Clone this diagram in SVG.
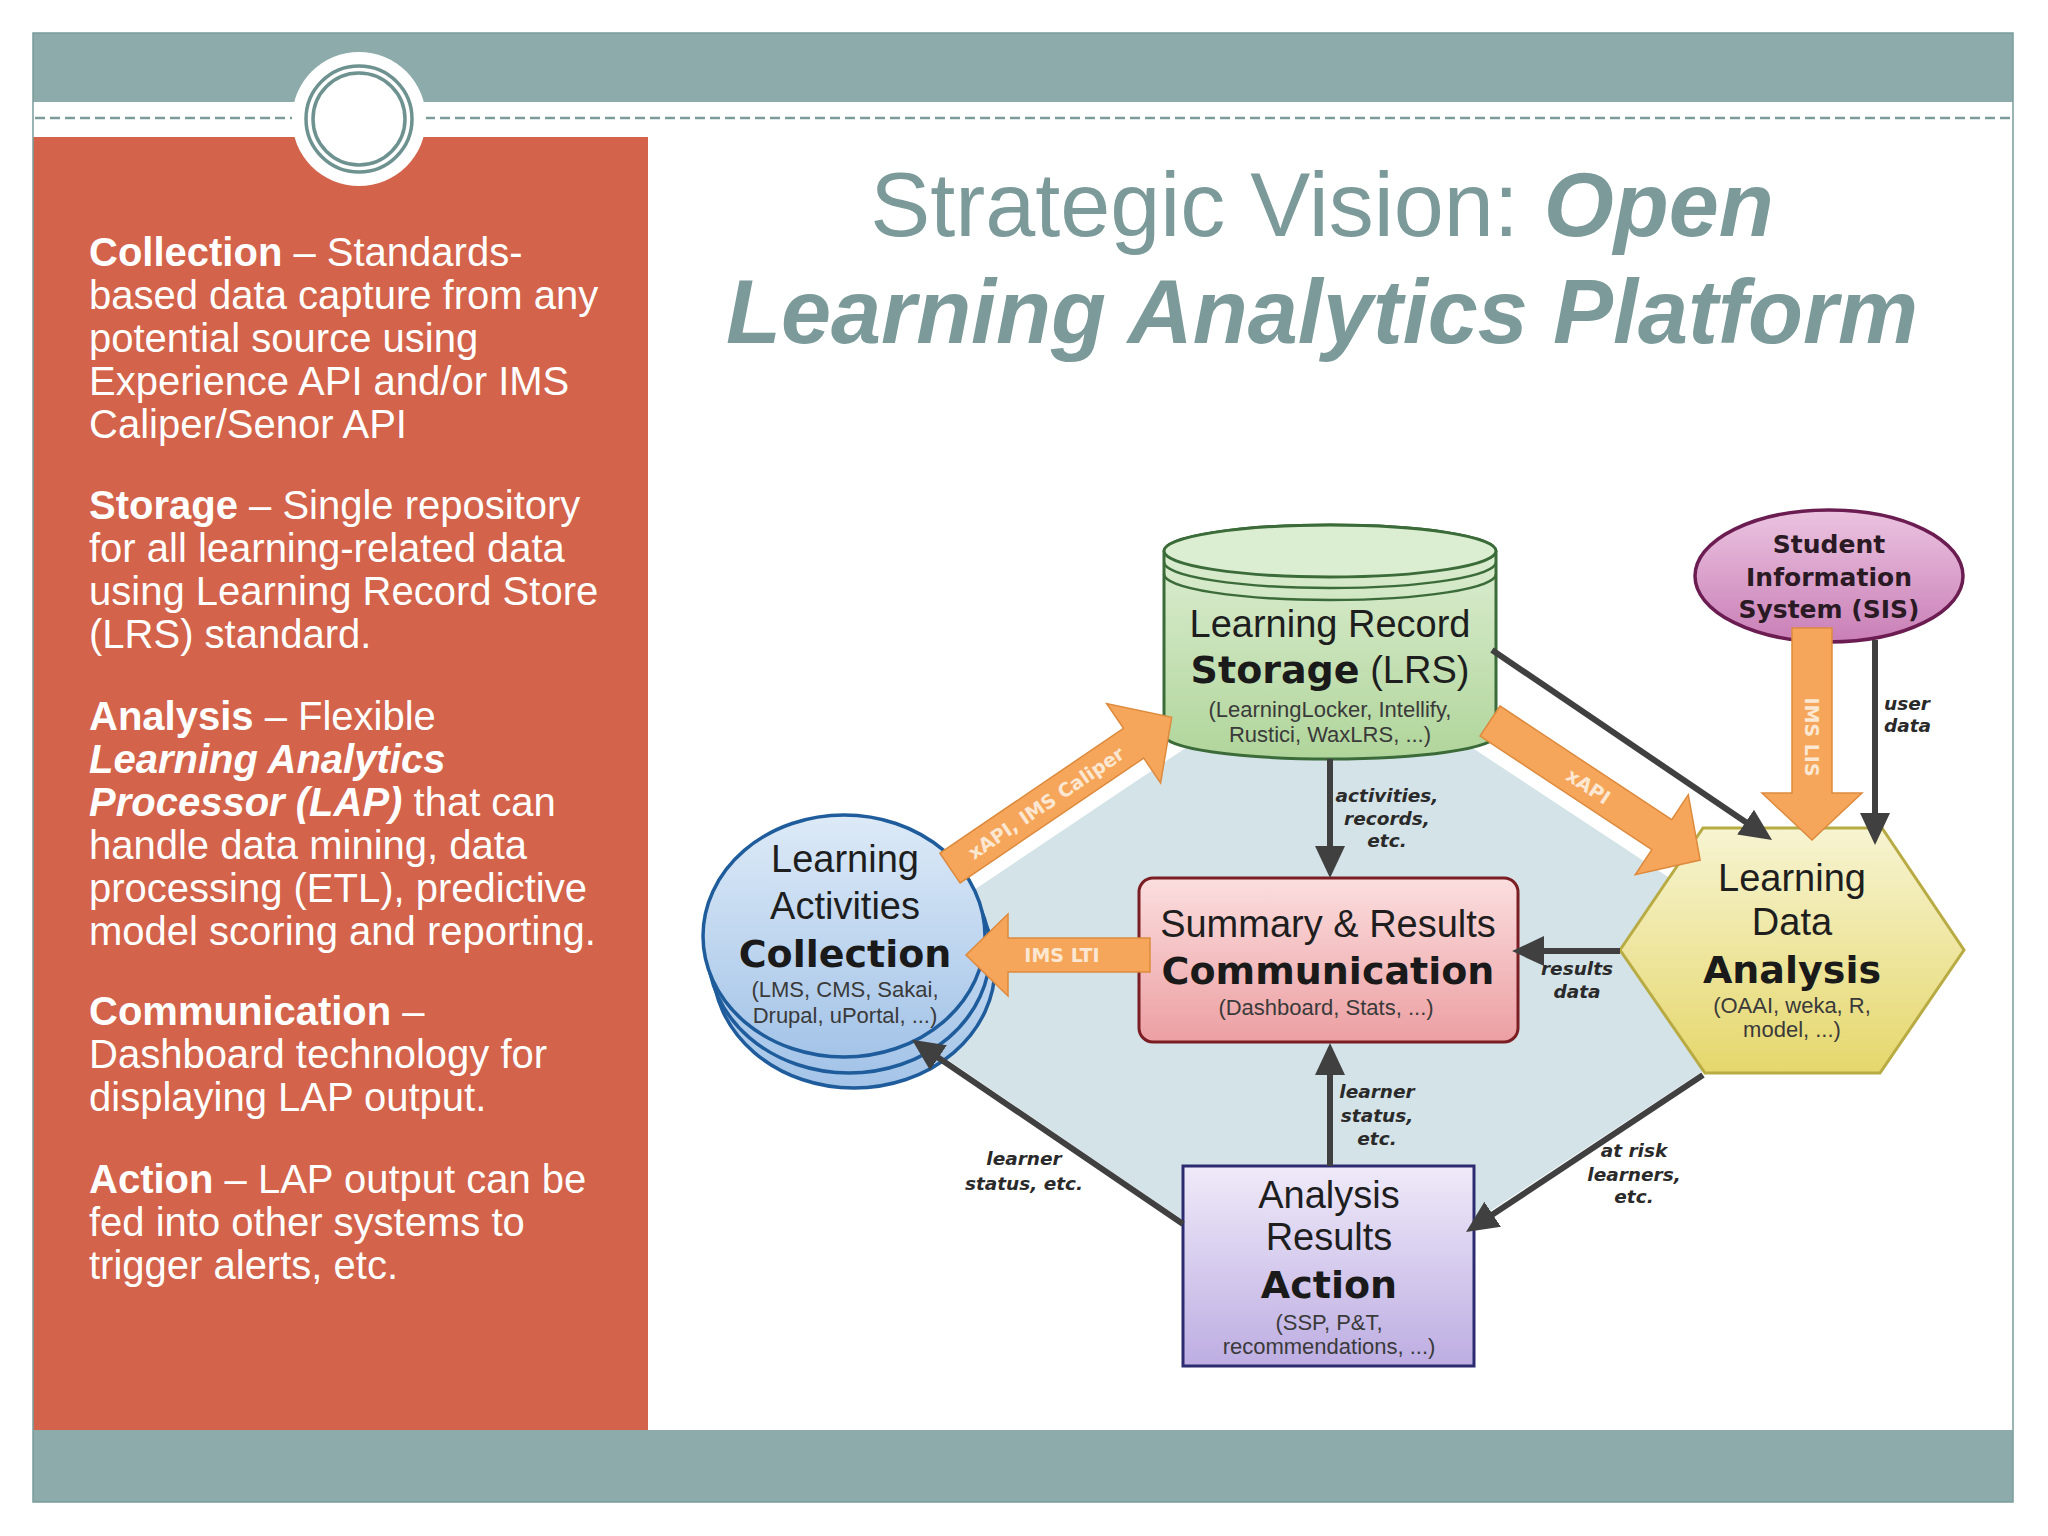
<svg xmlns="http://www.w3.org/2000/svg" width="2048" height="1536" viewBox="0 0 2048 1536">
<defs>
<style>
.panel{font-family:"Liberation Sans",Arial,sans-serif;font-size:40px;fill:#ffffff}
.b{font-weight:bold}
.bi{font-weight:bold;font-style:italic}
.title{font-family:"Liberation Sans",Arial,sans-serif;font-size:90px;fill:#7B9A99;text-anchor:middle}
.nt{font-family:"Liberation Sans",Arial,sans-serif;font-size:38px;fill:#1e1e1e;text-anchor:middle}
.nb{font-family:"DejaVu Sans",sans-serif;font-weight:bold;font-size:38px;fill:#1a1a1a}
.ns{font-family:"Liberation Sans",Arial,sans-serif;font-size:22px;fill:#3a3a3a;text-anchor:middle}
.sis{font-family:"DejaVu Sans",sans-serif;font-weight:bold;font-size:25px;fill:#2a1a24;text-anchor:middle}
.lbl{font-family:"DejaVu Sans",sans-serif;font-weight:bold;font-style:italic;font-size:18.5px;fill:#2a2a2a;text-anchor:middle}
.lbs{text-anchor:start}
.at{font-family:"DejaVu Sans",sans-serif;font-weight:bold;font-size:19px;fill:#FCE8D2;text-anchor:middle}
.oa{fill:#F5A65B;stroke:#DD8A3D;stroke-width:1.5}
.ln{stroke:#404040;stroke-width:6;fill:none;marker-end:url(#ah)}
.band{fill:#8DABAB}
</style>
<marker id="ah" markerUnits="userSpaceOnUse" markerWidth="32" markerHeight="32" viewBox="0 0 32 32" refX="12" refY="16" orient="auto">
<path d="M0,1 L32,16 L0,31 z" fill="#404040"/>
</marker>
<linearGradient id="gGreen" x1="0" y1="0" x2="0" y2="1"><stop offset="0" stop-color="#E1F0D8"/><stop offset="1" stop-color="#B0D59A"/></linearGradient>
<linearGradient id="gBlue" x1="0" y1="0" x2="0" y2="1"><stop offset="0" stop-color="#DDEAF7"/><stop offset="1" stop-color="#A4C4E8"/></linearGradient>
<linearGradient id="gPink" x1="0" y1="0" x2="0" y2="1"><stop offset="0" stop-color="#FBDEDF"/><stop offset="1" stop-color="#EC9FA2"/></linearGradient>
<linearGradient id="gYellow" x1="0" y1="0" x2="0" y2="1"><stop offset="0" stop-color="#F7F4D2"/><stop offset="1" stop-color="#E5D76C"/></linearGradient>
<linearGradient id="gLav" x1="0" y1="0" x2="0" y2="1"><stop offset="0" stop-color="#EFEAF9"/><stop offset="1" stop-color="#BDADE2"/></linearGradient>
<linearGradient id="gSis" x1="0" y1="0" x2="0" y2="1"><stop offset="0" stop-color="#EBC3E0"/><stop offset="1" stop-color="#C97FB7"/></linearGradient>
</defs>

<rect x="0" y="0" width="2048" height="1536" fill="#ffffff"/>

<g id="frame">
<rect class="band" x="33" y="33" width="1980" height="69"/>
<rect class="band" x="33" y="1430" width="1980" height="72"/>
<rect x="33" y="137" width="615" height="1293" fill="#D3634A"/>
<rect x="33" y="33" width="1980" height="1469" fill="none" stroke="#7A9C9A" stroke-width="1.5"/>
<line x1="35" y1="118" x2="2011" y2="118" stroke="#7B9C9B" stroke-width="2.5" stroke-dasharray="10 5"/>
<circle cx="359" cy="119" r="67" fill="#ffffff"/>
<circle cx="359" cy="119" r="53" fill="none" stroke="#6E9290" stroke-width="3.5"/>
<circle cx="359" cy="119" r="46" fill="none" stroke="#6E9290" stroke-width="3.5"/>
</g>

<g id="panel-text" class="panel">
<text x="89" y="266"><tspan class="b">Collection</tspan> – Standards-</text>
<text x="89" y="309">based data capture from any</text>
<text x="89" y="352">potential source using</text>
<text x="89" y="395">Experience API and/or IMS</text>
<text x="89" y="438">Caliper/Senor API</text>
<text x="89" y="519"><tspan class="b">Storage</tspan> – Single repository</text>
<text x="89" y="562">for all learning-related data</text>
<text x="89" y="605">using Learning Record Store</text>
<text x="89" y="648">(LRS) standard.</text>
<text x="89" y="730"><tspan class="b">Analysis</tspan> – Flexible</text>
<text x="89" y="773"><tspan class="bi">Learning Analytics</tspan></text>
<text x="89" y="816"><tspan class="bi">Processor (LAP)</tspan> that can</text>
<text x="89" y="859">handle data mining, data</text>
<text x="89" y="902">processing (ETL), predictive</text>
<text x="89" y="945">model scoring and reporting.</text>
<text x="89" y="1025"><tspan class="b">Communication</tspan> –</text>
<text x="89" y="1068">Dashboard technology for</text>
<text x="89" y="1111">displaying LAP output.</text>
<text x="89" y="1193"><tspan class="b">Action</tspan> – LAP output can be</text>
<text x="89" y="1236">fed into other systems to</text>
<text x="89" y="1279">trigger alerts, etc.</text>
</g>

<g id="title">
<text class="title" x="1322" y="236">Strategic Vision: <tspan class="bi">Open</tspan></text>
<text class="title bi" x="1322" y="343">Learning Analytics Platform</text>
</g>

<polygon id="backdrop" points="860,940 965,896 1193,743 1330,660 1468,745 1706,902 1730,960 1712,1065 1463,1229 1330,1300 1193,1227 929,1047" fill="#D4E3E8"/>

<g id="node-collection">
<ellipse cx="854" cy="967" rx="141" ry="121" fill="url(#gBlue)" stroke="#1F5C9C" stroke-width="3.5"/>
<ellipse cx="849" cy="952" rx="141" ry="121" fill="url(#gBlue)" stroke="#1F5C9C" stroke-width="3.5"/>
<ellipse cx="844" cy="936" rx="141" ry="121" fill="url(#gBlue)" stroke="#1F5C9C" stroke-width="3.5"/>
<text class="nt" x="845" y="872">Learning</text>
<text class="nt" x="845" y="919">Activities</text>
<text class="nb" x="845" y="967" text-anchor="middle">Collection</text>
<text class="ns" x="845" y="997">(LMS, CMS, Sakai,</text>
<text class="ns" x="845" y="1023">Drupal, uPortal, ...)</text>
</g>

<g id="node-lrs">
<path d="M1164,551 V735 A166,24 0 0 0 1496,735 V551 A166,26 0 0 0 1164,551 Z" fill="url(#gGreen)" stroke="#3C6B3A" stroke-width="3"/>
<ellipse cx="1330" cy="551" rx="166" ry="26" fill="#DCEED2" stroke="#3C6B3A" stroke-width="3"/>
<path d="M1164,562 A166,26 0 0 0 1496,562 M1164,574 A166,26 0 0 0 1496,574" fill="none" stroke="#3C6B3A" stroke-width="2.5"/>
<text class="nt" x="1330" y="637">Learning Record</text>
<text class="nt" x="1330" y="683"><tspan class="nb">Storage</tspan> (LRS)</text>
<text class="ns" x="1330" y="717">(LearningLocker, Intellify,</text>
<text class="ns" x="1330" y="742">Rustici, WaxLRS, ...)</text>
</g>

<g id="node-comm">
<rect x="1139" y="878" width="379" height="164" rx="14" fill="url(#gPink)" stroke="#7A1E23" stroke-width="3"/>
<text class="nt" x="1328" y="937">Summary &amp; Results</text>
<text class="nb" x="1328" y="984" text-anchor="middle">Communication</text>
<text class="ns" x="1326" y="1015">(Dashboard, Stats, ...)</text>
</g>

<g id="node-analysis">
<polygon points="1620,950 1703,828 1882,828 1964,950 1880,1073 1705,1073" fill="url(#gYellow)" stroke="#B8AB44" stroke-width="3"/>
<text class="nt" x="1792" y="891">Learning</text>
<text class="nt" x="1792" y="935">Data</text>
<text class="nb" x="1792" y="983" text-anchor="middle">Analysis</text>
<text class="ns" x="1792" y="1013">(OAAI, weka, R,</text>
<text class="ns" x="1792" y="1037">model, ...)</text>
</g>

<g id="node-sis">
<ellipse cx="1829" cy="576" rx="134" ry="66" fill="url(#gSis)" stroke="#6B1D52" stroke-width="3.5"/>
<text class="sis" x="1829" y="553">Student</text>
<text class="sis" x="1829" y="586">Information</text>
<text class="sis" x="1829" y="618">System (SIS)</text>
</g>

<g id="node-action">
<rect x="1183" y="1166" width="291" height="200" fill="url(#gLav)" stroke="#2D2B70" stroke-width="3"/>
<text class="nt" x="1329" y="1208">Analysis</text>
<text class="nt" x="1329" y="1250">Results</text>
<text class="nb" x="1329" y="1298" text-anchor="middle">Action</text>
<text class="ns" x="1329" y="1330">(SSP, P&amp;T,</text>
<text class="ns" x="1329" y="1354">recommendations, ...)</text>
</g>

<g id="connectors">
<line class="ln" x1="1330" y1="759" x2="1330" y2="858"/>
<line class="ln" x1="1330" y1="1166" x2="1330" y2="1063"/>
<line class="ln" x1="1620" y1="951" x2="1532" y2="951"/>
<line class="ln" x1="1183" y1="1224" x2="928.5" y2="1051"/>
<line class="ln" x1="1703" y1="1075" x2="1482.7" y2="1221"/>
<line class="ln" x1="1492" y1="650" x2="1755.5" y2="828.8"/>
<line class="ln" x1="1875" y1="640" x2="1875" y2="825"/>

<g transform="translate(1490,721) rotate(33.5)">
<polygon class="oa" points="0,-18 206,-18 206,-48 252,0 206,48 206,18 0,18"/>
<text class="at" x="118" y="7">xAPI</text>
</g>
<g transform="translate(950,868) rotate(-34.2)">
<polygon class="oa" points="0,-18 222,-18 222,-48 268,0 222,48 222,18 0,18"/>
<text class="at" x="116" y="7">xAPI, IMS Caliper</text>
</g>
<polygon class="oa" points="1150,938 1008,938 1008,914 966,955 1008,996 1008,972 1150,972"/>
<text class="at" x="1062" y="962">IMS LTI</text>
<polygon class="oa" points="1792,628 1832,628 1832,793 1862,793 1812,840 1762,793 1792,793"/>
<text class="at" transform="translate(1812,737) rotate(90)" x="0" y="7">IMS LIS</text>

<text class="lbl" x="1387" y="802">activities,</text>
<text class="lbl" x="1387" y="825">records,</text>
<text class="lbl" x="1387" y="847">etc.</text>
<text class="lbl" x="1377" y="1098">learner</text>
<text class="lbl" x="1377" y="1122">status,</text>
<text class="lbl" x="1377" y="1145">etc.</text>
<text class="lbl" x="1024" y="1165">learner</text>
<text class="lbl" x="1024" y="1190">status, etc.</text>
<text class="lbl" x="1634" y="1157">at risk</text>
<text class="lbl" x="1634" y="1181">learners,</text>
<text class="lbl" x="1634" y="1203">etc.</text>
<text class="lbl" x="1577" y="975">results</text>
<text class="lbl" x="1577" y="998">data</text>
<text class="lbl lbs" x="1884" y="710">user</text>
<text class="lbl lbs" x="1884" y="732">data</text>
</g>
</svg>
